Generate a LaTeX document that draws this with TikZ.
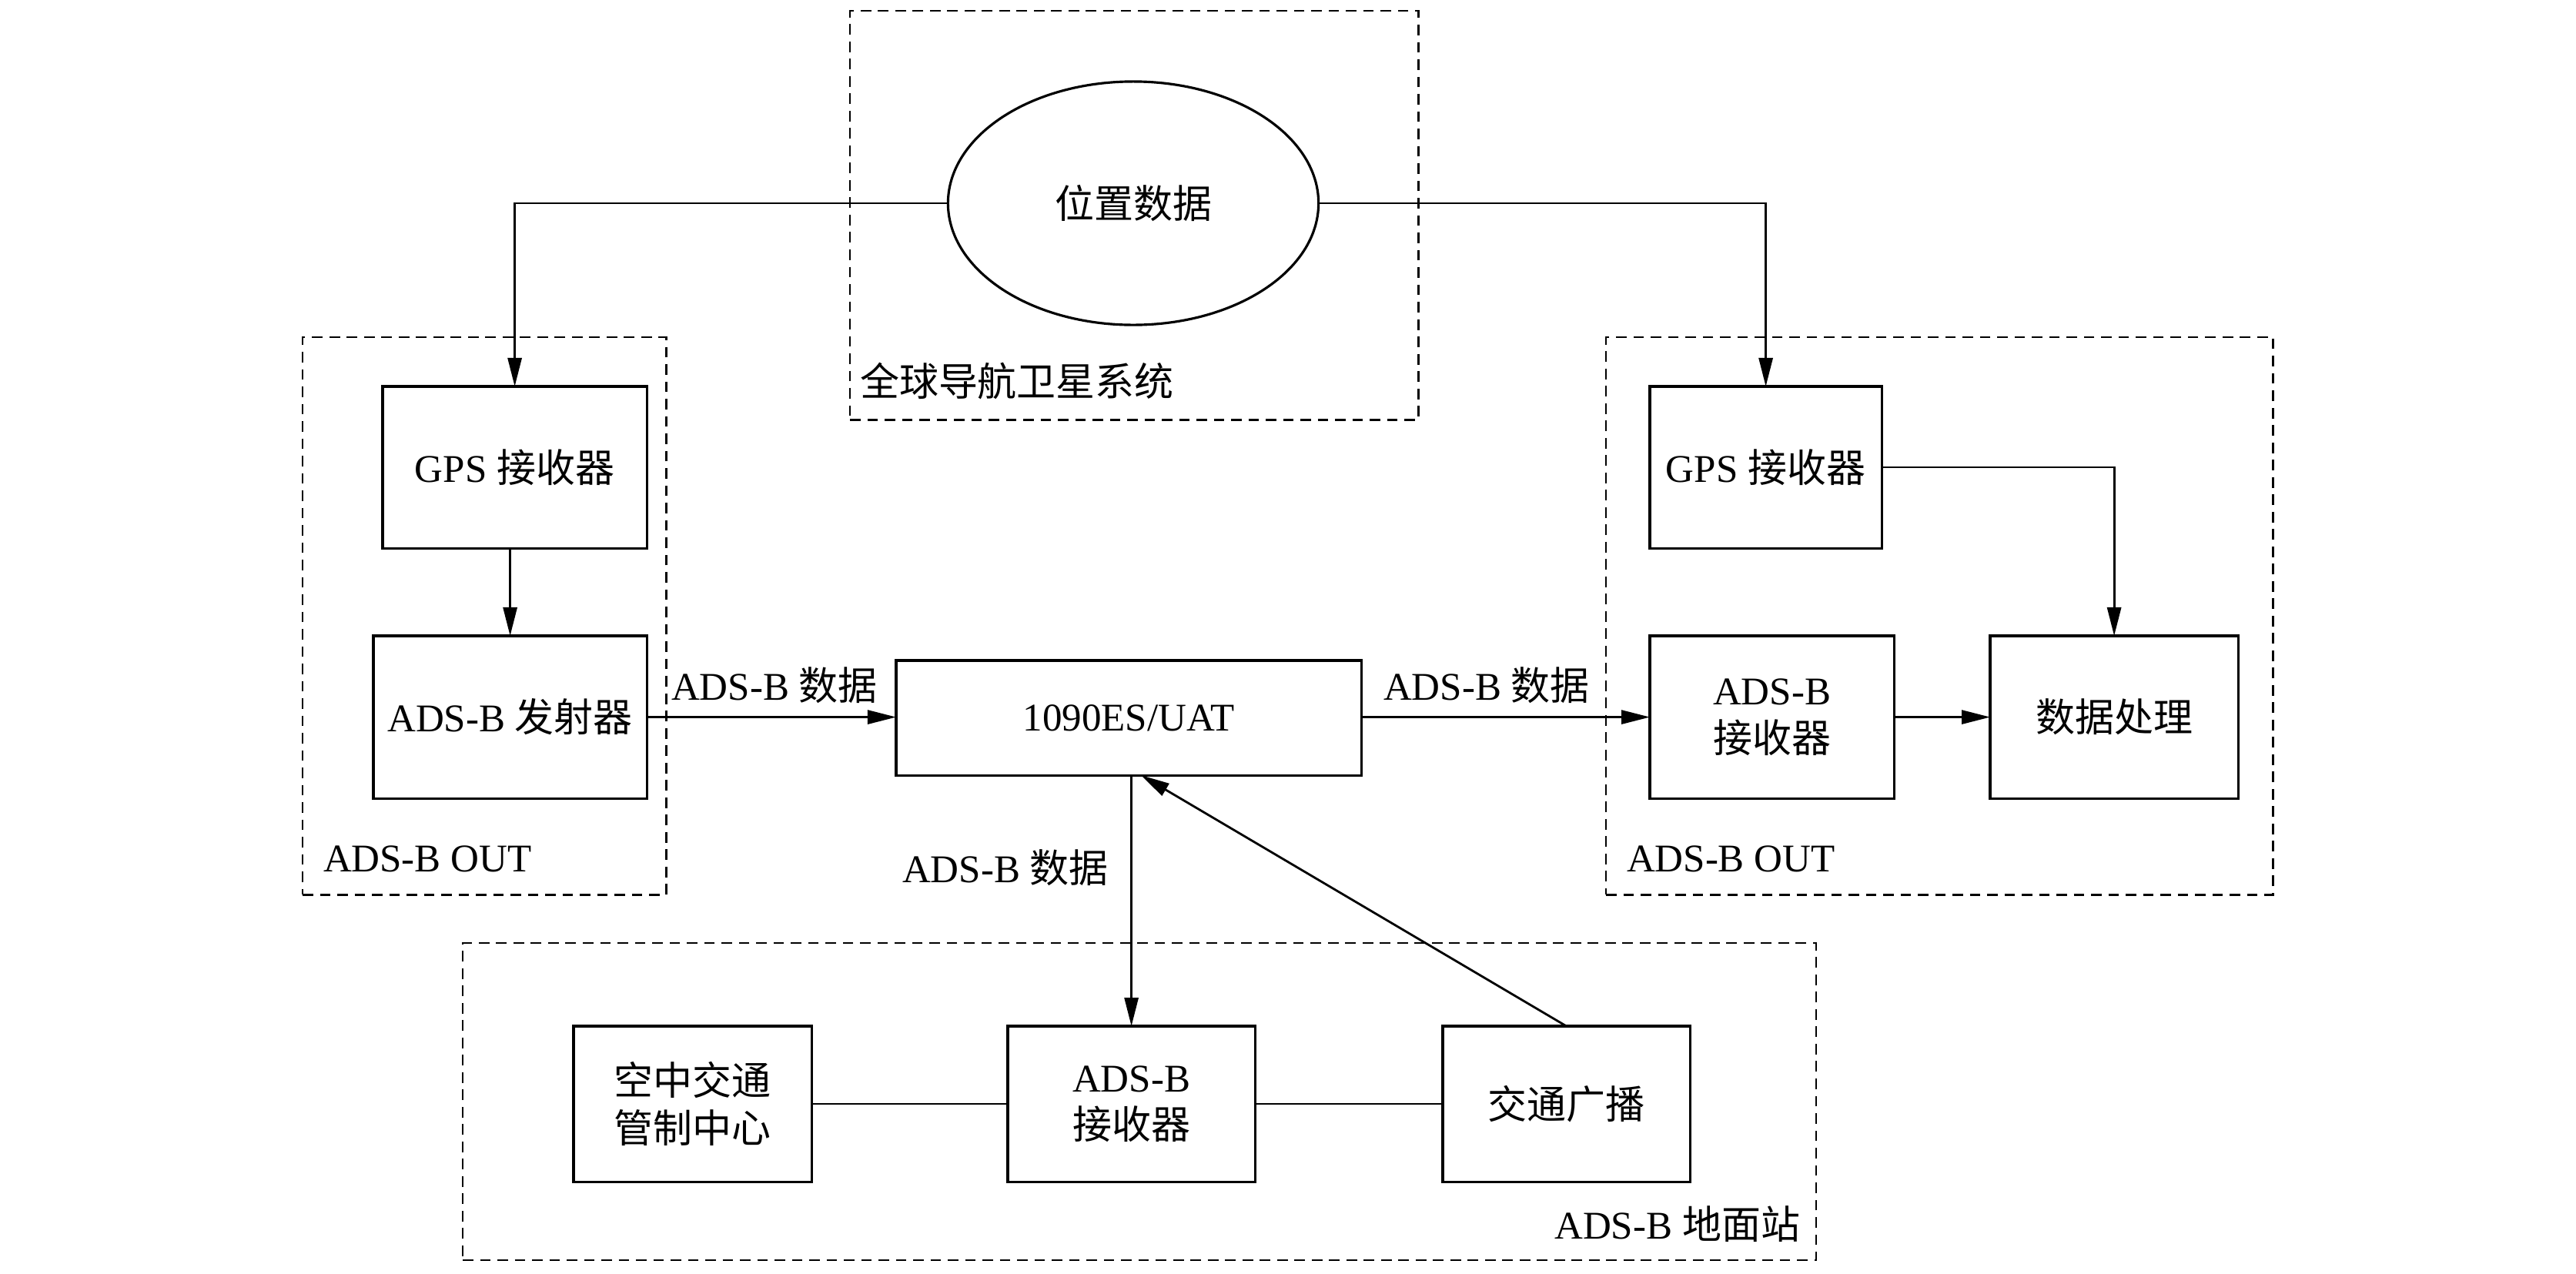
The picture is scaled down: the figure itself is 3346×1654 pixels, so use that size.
\documentclass[tikz,border=0pt]{standalone}
\usepackage{fontspec}
\setmainfont{Liberation Serif}
\newfontfamily\cjk{Noto Sans CJK SC}
\usetikzlibrary{shapes.geometric,arrows.meta,calc}
\begin{document}
\begin{tikzpicture}[x=0.01cm,y=-0.01cm,
  font=\fontsize{14.5pt}{17.5pt}\selectfont,
  box/.style={draw, line width=0.9pt, inner sep=0pt, outer sep=0pt, anchor=north west, align=center},
  grp/.style={draw, dash pattern=on 3.9pt off 2.5pt, line width=0.7pt, inner sep=0pt, outer sep=0pt, anchor=north west},
  conn/.style={line width=0.8pt},
  arr/.style={conn, -{Triangle[length=0.37cm,width=0.18cm]}},
  lbl/.style={inner sep=0pt, outer sep=0pt}]
\useasboundingbox (0,0) rectangle (3346,1654);
% groups
\node[grp, minimum width=7.38cm, minimum height=5.31cm] (gnss) at (1104,14) {};
\node[grp, minimum width=4.72cm, minimum height=7.24cm] (leftout) at (393,438) {};
\node[grp, minimum width=8.66cm, minimum height=7.24cm] (rightout) at (2086,438) {};
\node[grp, minimum width=17.57cm, minimum height=4.12cm] (ground) at (601,1225) {};
% group labels
\node[lbl, anchor=west] (lgnss) at (1117,495) {\cjk 全球导航卫星系统};
\node[lbl, anchor=west] (lleft) at (420,1116) {ADS-B OUT};
\node[lbl, anchor=west] (lright) at (2113,1116) {ADS-B OUT};
\node[lbl, anchor=east] (lground) at (2338,1590) {ADS-B {\cjk 地面站}};
% nodes
\node[draw, ellipse, line width=0.9pt, inner sep=0pt, minimum width=4.81cm, minimum height=3.16cm] (ell) at (1472,264) {\cjk 位置数据};
\node[box, minimum width=3.43cm, minimum height=2.10cm] (gps1) at (497,502) {GPS {\cjk 接收器}};
\node[box, minimum width=3.55cm, minimum height=2.11cm] (tx) at (485,826) {ADS-B {\cjk 发射器}};
\node[box, minimum width=6.04cm, minimum height=1.49cm] (uat) at (1164,858) {1090ES/UAT};
\node[box, minimum width=3.01cm, minimum height=2.10cm] (gps2) at (2143,502) {GPS {\cjk 接收器}};
\node[box, minimum width=3.17cm, minimum height=2.11cm] (rx1) at (2143,826) {ADS-B\\{\cjk 接收器}};
\node[box, minimum width=3.22cm, minimum height=2.11cm] (proc) at (2585,826) {\cjk 数据处理};
\node[box, minimum width=3.09cm, minimum height=2.02cm] (atc) at (745,1333) {{\cjk 空中交通}\\{\cjk 管制中心}};
\node[box, minimum width=3.21cm, minimum height=2.02cm] (rx2) at (1309,1333) {ADS-B\\{\cjk 接收器}};
\node[box, minimum width=3.21cm, minimum height=2.02cm] (bcast) at (1874,1333) {\cjk 交通广播};
% connectors
\draw[arr] (ell.west) -| (gps1.north);
\draw[arr] (ell.east) -| (gps2.north);
\draw[arr] (tx.north |- gps1.south) -- (tx.north);
\draw[arr] (tx.east) -- (tx.east -| uat.west);
\draw[arr] (rx1.west -| uat.east) -- (rx1.west);
\draw[arr] (gps2.east) -| (proc.north);
\draw[arr] (rx1.east) -- (proc.west);
\draw[arr] (rx2.north |- uat.south) -- (rx2.north);
\draw[arr] (bcast.north) -- ($(uat.south)+(16,0)$);
\draw[conn] (atc.east) -- (rx2.west);
\draw[conn] (rx2.east) -- (bcast.west);
% connector labels
\node[lbl] (d1) at (1006,890) {ADS-B {\cjk 数据}};
\node[lbl] (d2) at (1931,890) {ADS-B {\cjk 数据}};
\node[lbl] (d3) at (1306,1127) {ADS-B {\cjk 数据}};
\end{tikzpicture}
\end{document}
